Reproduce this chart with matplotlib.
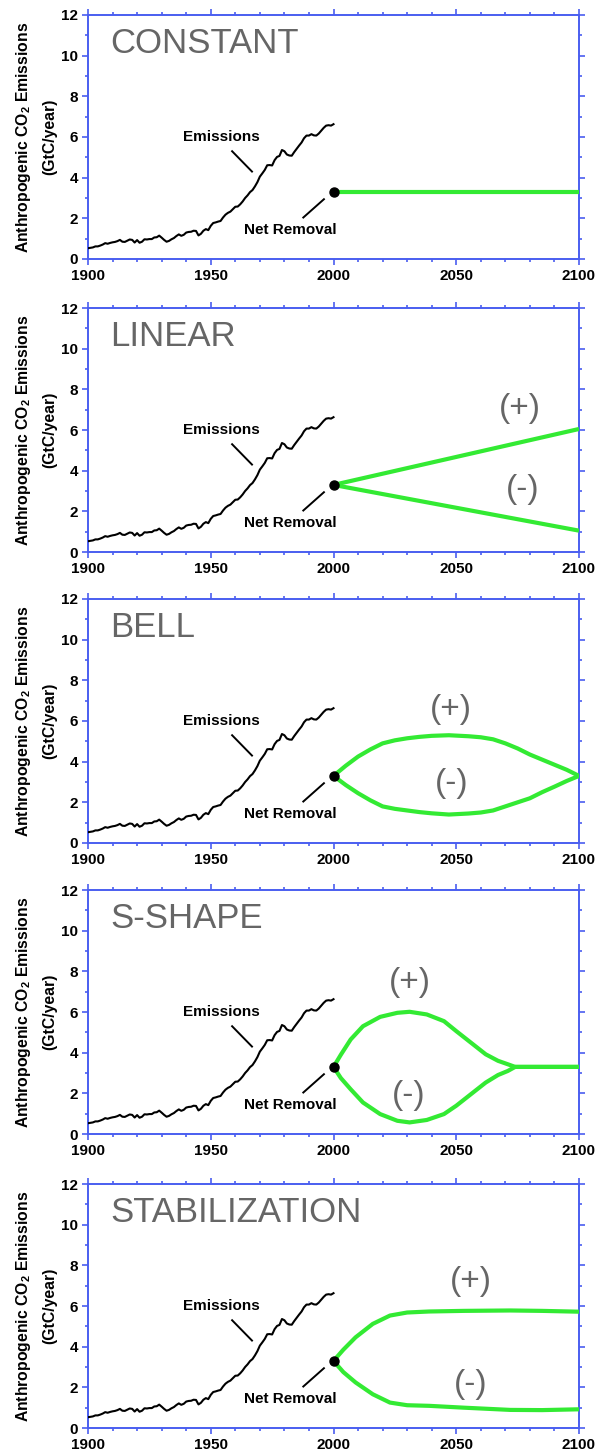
import numpy as np
import matplotlib
matplotlib.use('Agg')
import matplotlib.pyplot as plt
from matplotlib.ticker import MultipleLocator

# 1. Font setup
plt.rcParams['font.family'] = ['Liberation Sans', 'DejaVu Sans']
plt.rcParams['mathtext.fontset'] = 'custom'
plt.rcParams['mathtext.rm'] = 'Liberation Sans:bold'
plt.rcParams['mathtext.bf'] = 'Liberation Sans:bold'

# 2. Data
# historical fossil emissions (GtC/year), 1900-2000
hist_years = list(range(1900, 2001))
hist_emis = [
    0.53, 0.55, 0.57, 0.62, 0.62, 0.66, 0.71, 0.78, 0.75, 0.79,
    0.82, 0.84, 0.88, 0.94, 0.85, 0.84, 0.90, 0.96, 0.94, 0.81,
    0.93, 0.80, 0.85, 0.97, 0.96, 0.98, 0.98, 1.06, 1.07, 1.15,
    1.05, 0.94, 0.85, 0.89, 0.97, 1.03, 1.13, 1.21, 1.14, 1.19,
    1.30, 1.33, 1.34, 1.39, 1.38, 1.16, 1.24, 1.39, 1.47, 1.42,
    1.63, 1.77, 1.80, 1.84, 1.87, 2.04, 2.18, 2.27, 2.33, 2.45,
    2.57, 2.58, 2.69, 2.83, 3.00, 3.13, 3.29, 3.39, 3.57, 3.78,
    4.05, 4.21, 4.38, 4.61, 4.62, 4.60, 4.86, 5.02, 5.07, 5.36,
    5.30, 5.14, 5.09, 5.08, 5.26, 5.42, 5.58, 5.73, 5.94, 6.07,
    6.07, 6.14, 6.08, 6.07, 6.17, 6.31, 6.45, 6.56, 6.58, 6.56,
    6.63,
]
start_year = 2000
start_value = 3.3

panel_names = ['CONSTANT', 'LINEAR', 'BELL', 'S-SHAPE', 'STABILIZATION']

const_years = [2000, 2100]
const_vals = [3.3, 3.3]

linear_years = [2000, 2100]
linear_plus = [3.3, 6.05]
linear_minus = [3.3, 1.05]

bell_years = [2000, 2005, 2010, 2015, 2020, 2025, 2030, 2035, 2040, 2047,
              2055, 2060, 2065, 2070, 2075, 2080, 2085, 2090, 2095, 2100]
bell_plus = [3.3, 3.8, 4.25, 4.6, 4.9, 5.05, 5.15, 5.22, 5.27, 5.3,
             5.25, 5.2, 5.1, 4.9, 4.65, 4.35, 4.1, 3.85, 3.6, 3.3]
bell_minus = [3.3, 2.85, 2.45, 2.1, 1.8, 1.68, 1.6, 1.52, 1.46, 1.4,
              1.45, 1.5, 1.6, 1.8, 2.0, 2.2, 2.5, 2.77, 3.05, 3.3]

s_years = [2000, 2003, 2007, 2012, 2019, 2026, 2031, 2038, 2045, 2050,
           2056, 2062, 2067, 2071, 2074, 2100]
s_plus = [3.3, 3.9, 4.65, 5.3, 5.76, 5.96, 6.01, 5.88, 5.55, 5.06,
          4.49, 3.92, 3.6, 3.43, 3.3, 3.3]
s_minus = [3.3, 2.75, 2.2, 1.55, 0.98, 0.65, 0.57, 0.69, 0.98, 1.39,
           1.96, 2.53, 2.9, 3.1, 3.3, 3.3]

stab_years = [2000, 2004, 2009, 2016, 2023, 2030, 2039, 2053, 2072,
              2085, 2100]
stab_plus = [3.3, 3.85, 4.46, 5.12, 5.53, 5.68, 5.73, 5.76, 5.78,
             5.76, 5.72]
stab_minus = [3.3, 2.75, 2.24, 1.66, 1.25, 1.12, 1.09, 1.0, 0.89,
              0.88, 0.92]

scenarios = [
    [(const_years, const_vals)],
    [(linear_years, linear_plus), (linear_years, linear_minus)],
    [(bell_years, bell_plus), (bell_years, bell_minus)],
    [(s_years, s_plus), (s_years, s_minus)],
    [(stab_years, stab_plus), (stab_years, stab_minus)],
]
# (+)/(-) label positions (year, value)
sign_labels = [
    [],
    [(2076, 7.05, '(+)'), (2077, 3.05, '(-)')],
    [(2048, 6.55, '(+)'), (2048, 2.95, '(-)')],
    [(2031, 7.45, '(+)'), (2030.5, 1.9, '(-)')],
    [(2056, 7.2, '(+)'), (2056, 2.15, '(-)')],
]

# 3. Layout (pixels)
W, H = 597, 1454
panel_tops = [15, 308, 599, 890, 1184]
panel_h = 244
left_px, right_px = 88, 579

blue = '#4a5ef0'
green = '#33ea33'
gray = '#666666'

fig = plt.figure(figsize=(W / 100, H / 100), dpi=100)

for i, name in enumerate(panel_names):
    bottom = 1 - (panel_tops[i] + panel_h) / H
    ax = fig.add_axes([left_px / W, bottom, (right_px - left_px) / W, panel_h / H])

    ax.plot(hist_years, hist_emis, color='black', lw=1.5, zorder=3)
    for xs, ys in scenarios[i]:
        ax.plot(xs, ys, color=green, lw=3.0, solid_capstyle='butt',
                solid_joinstyle='round', zorder=4)
    ax.plot([start_year], [start_value], 'o', color='black', ms=6.5, zorder=5)

    # annotations
    ax.text(1954.5, 6.0, 'Emissions', fontsize=11, fontweight='bold',
            ha='center', va='center')
    ax.plot([1958.7, 1966.8], [5.3, 4.3], color='black', lw=1.4)
    ax.text(1982.5, 1.42, 'Net Removal', fontsize=11, fontweight='bold',
            ha='center', va='center')
    ax.plot([1987.7, 1996.1], [2.04, 2.94], color='black', lw=1.4)

    ax.text(0.045, 0.885, name, transform=ax.transAxes, fontsize=25,
            color=gray, ha='left', va='center')
    for x, y, s in sign_labels[i]:
        ax.text(x, y, s, fontsize=24, color=gray, ha='center', va='center')

    ax.set_xlim(1900, 2100)
    ax.set_ylim(0, 12)
    ax.xaxis.set_major_locator(MultipleLocator(50))
    ax.xaxis.set_minor_locator(MultipleLocator(10))
    ax.yaxis.set_major_locator(MultipleLocator(2))
    ax.yaxis.set_minor_locator(MultipleLocator(1))
    ax.tick_params(which='both', direction='out', color=blue, width=1.2,
                   top=True, right=True, labeltop=False, labelright=False)
    ax.tick_params(which='major', length=4, labelsize=11, pad=3)
    ax.tick_params(which='minor', length=2.5)
    for lab in ax.get_xticklabels() + ax.get_yticklabels():
        lab.set_fontweight('bold')
    for sp in ax.spines.values():
        sp.set_color(blue)
        sp.set_linewidth(1.4)

    ax.text(-0.132, 0.5, r'Anthropogenic CO$_{\mathrm{2}}$ Emissions',
            transform=ax.transAxes, rotation=90, fontsize=11.3,
            fontweight='bold', ha='center', va='center')
    ax.text(-0.077, 0.5, '(GtC/year)', transform=ax.transAxes, rotation=90,
            fontsize=11.3, fontweight='bold', ha='center', va='center')

fig.savefig('out.png', dpi=100)
